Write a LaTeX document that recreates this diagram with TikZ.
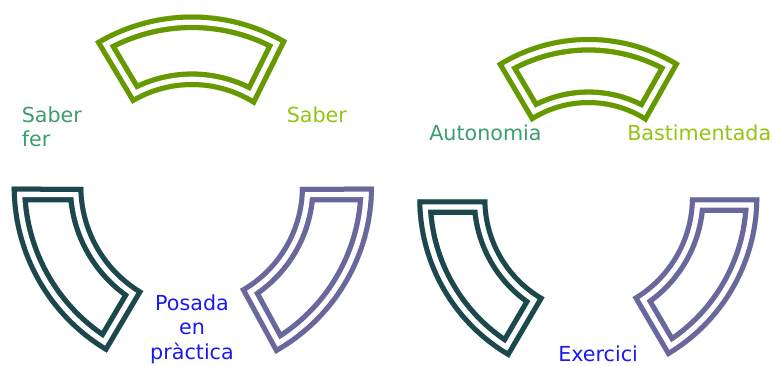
\documentclass[tikz,border=0pt]{standalone}
\usepackage{fontspec}
\setmainfont{DejaVu Sans}
\definecolor{segtop}{RGB}{102,153,0}
\definecolor{segleft}{RGB}{28,72,77}
\definecolor{segright}{RGB}{104,104,156}
\definecolor{txtgreen}{RGB}{60,158,110}
\definecolor{txtyel}{RGB}{146,198,18}
\definecolor{txtblue}{RGB}{26,26,240}
% #1 colour, #2 cx, #3 cy, #4 R, #5 r, #6 outer start, #7 outer end, #8 inner start, #9 inner end
\newcommand{\blockarc}[9]{%
  \begin{scope}
    \clip plot[domain=0:1,samples=70] ({#2+#4*cos((#6)+((#7)-(#6))*\x)},{#3+#4*sin((#6)+((#7)-(#6))*\x)})
      -- plot[domain=0:1,samples=70] ({#2+#5*cos((#8)+((#9)-(#8))*\x)},{#3+#5*sin((#8)+((#9)-(#8))*\x)}) -- cycle;
    \draw[#1,line width=23.4pt] plot[domain=0:1,samples=70] ({#2+#4*cos((#6)+((#7)-(#6))*\x)},{#3+#4*sin((#6)+((#7)-(#6))*\x)})
      -- plot[domain=0:1,samples=70] ({#2+#5*cos((#8)+((#9)-(#8))*\x)},{#3+#5*sin((#8)+((#9)-(#8))*\x)}) -- cycle;
    \draw[white,line width=15.45pt] plot[domain=0:1,samples=70] ({#2+#4*cos((#6)+((#7)-(#6))*\x)},{#3+#4*sin((#6)+((#7)-(#6))*\x)})
      -- plot[domain=0:1,samples=70] ({#2+#5*cos((#8)+((#9)-(#8))*\x)},{#3+#5*sin((#8)+((#9)-(#8))*\x)}) -- cycle;
    \draw[#1,line width=7.5pt] plot[domain=0:1,samples=70] ({#2+#4*cos((#6)+((#7)-(#6))*\x)},{#3+#4*sin((#6)+((#7)-(#6))*\x)})
      -- plot[domain=0:1,samples=70] ({#2+#5*cos((#8)+((#9)-(#8))*\x)},{#3+#5*sin((#8)+((#9)-(#8))*\x)}) -- cycle;
  \end{scope}}
\begin{document}
\begin{tikzpicture}[x=0.75pt,y=-0.75pt,
  lbl/.style={inner sep=0pt,font=\fontsize{15.5}{18.3}\selectfont}]
\useasboundingbox[fill=white] (0,0) rectangle (773,365);
% group 1
\blockarc{segtop}{192}{201.5}{187}{114.5}{-121.2}{-59.4}{-56.8}{-121.5}
\blockarc{segleft}{204}{186.7}{192.3}{120.7}{180}{120.3}{120.2}{180}
\blockarc{segright}{183}{186.7}{191}{117}{0}{61.1}{60.8}{0}
% group 2
\blockarc{segtop}{588.5}{209}{172}{104}{-122.2}{-57.9}{-56.25}{-123.35}
\blockarc{segleft}{600}{199.3}{182.7}{112.7}{180}{119.8}{119.5}{180}
\blockarc{segright}{574.7}{197.3}{184.6}{115.3}{0}{59.85}{59.9}{0}
% labels (multi-line nodes anchored on their last line's baseline)
\node[lbl,anchor=base west,align=left,text=txtgreen] (saberfer) at (21.5,146.7) {Saber\\fer};
\node[lbl,anchor=base west,text=txtyel] (saber) at (286.5,122.3) {Saber};
\node[lbl,anchor=base,align=center,text=txtblue] (posada) at (192,359) {Posada\\en\\pràctica};
\node[lbl,anchor=base west,text=txtgreen] (autonomia) at (429,140.7) {Autonomia};
\node[lbl,anchor=base west,text=txtyel] (bastimentada) at (627,140.7) {Bastimentada};
\node[lbl,anchor=base west,text=txtblue] (exercici) at (558,361.7) {Exercici};
\end{tikzpicture}
\end{document}
